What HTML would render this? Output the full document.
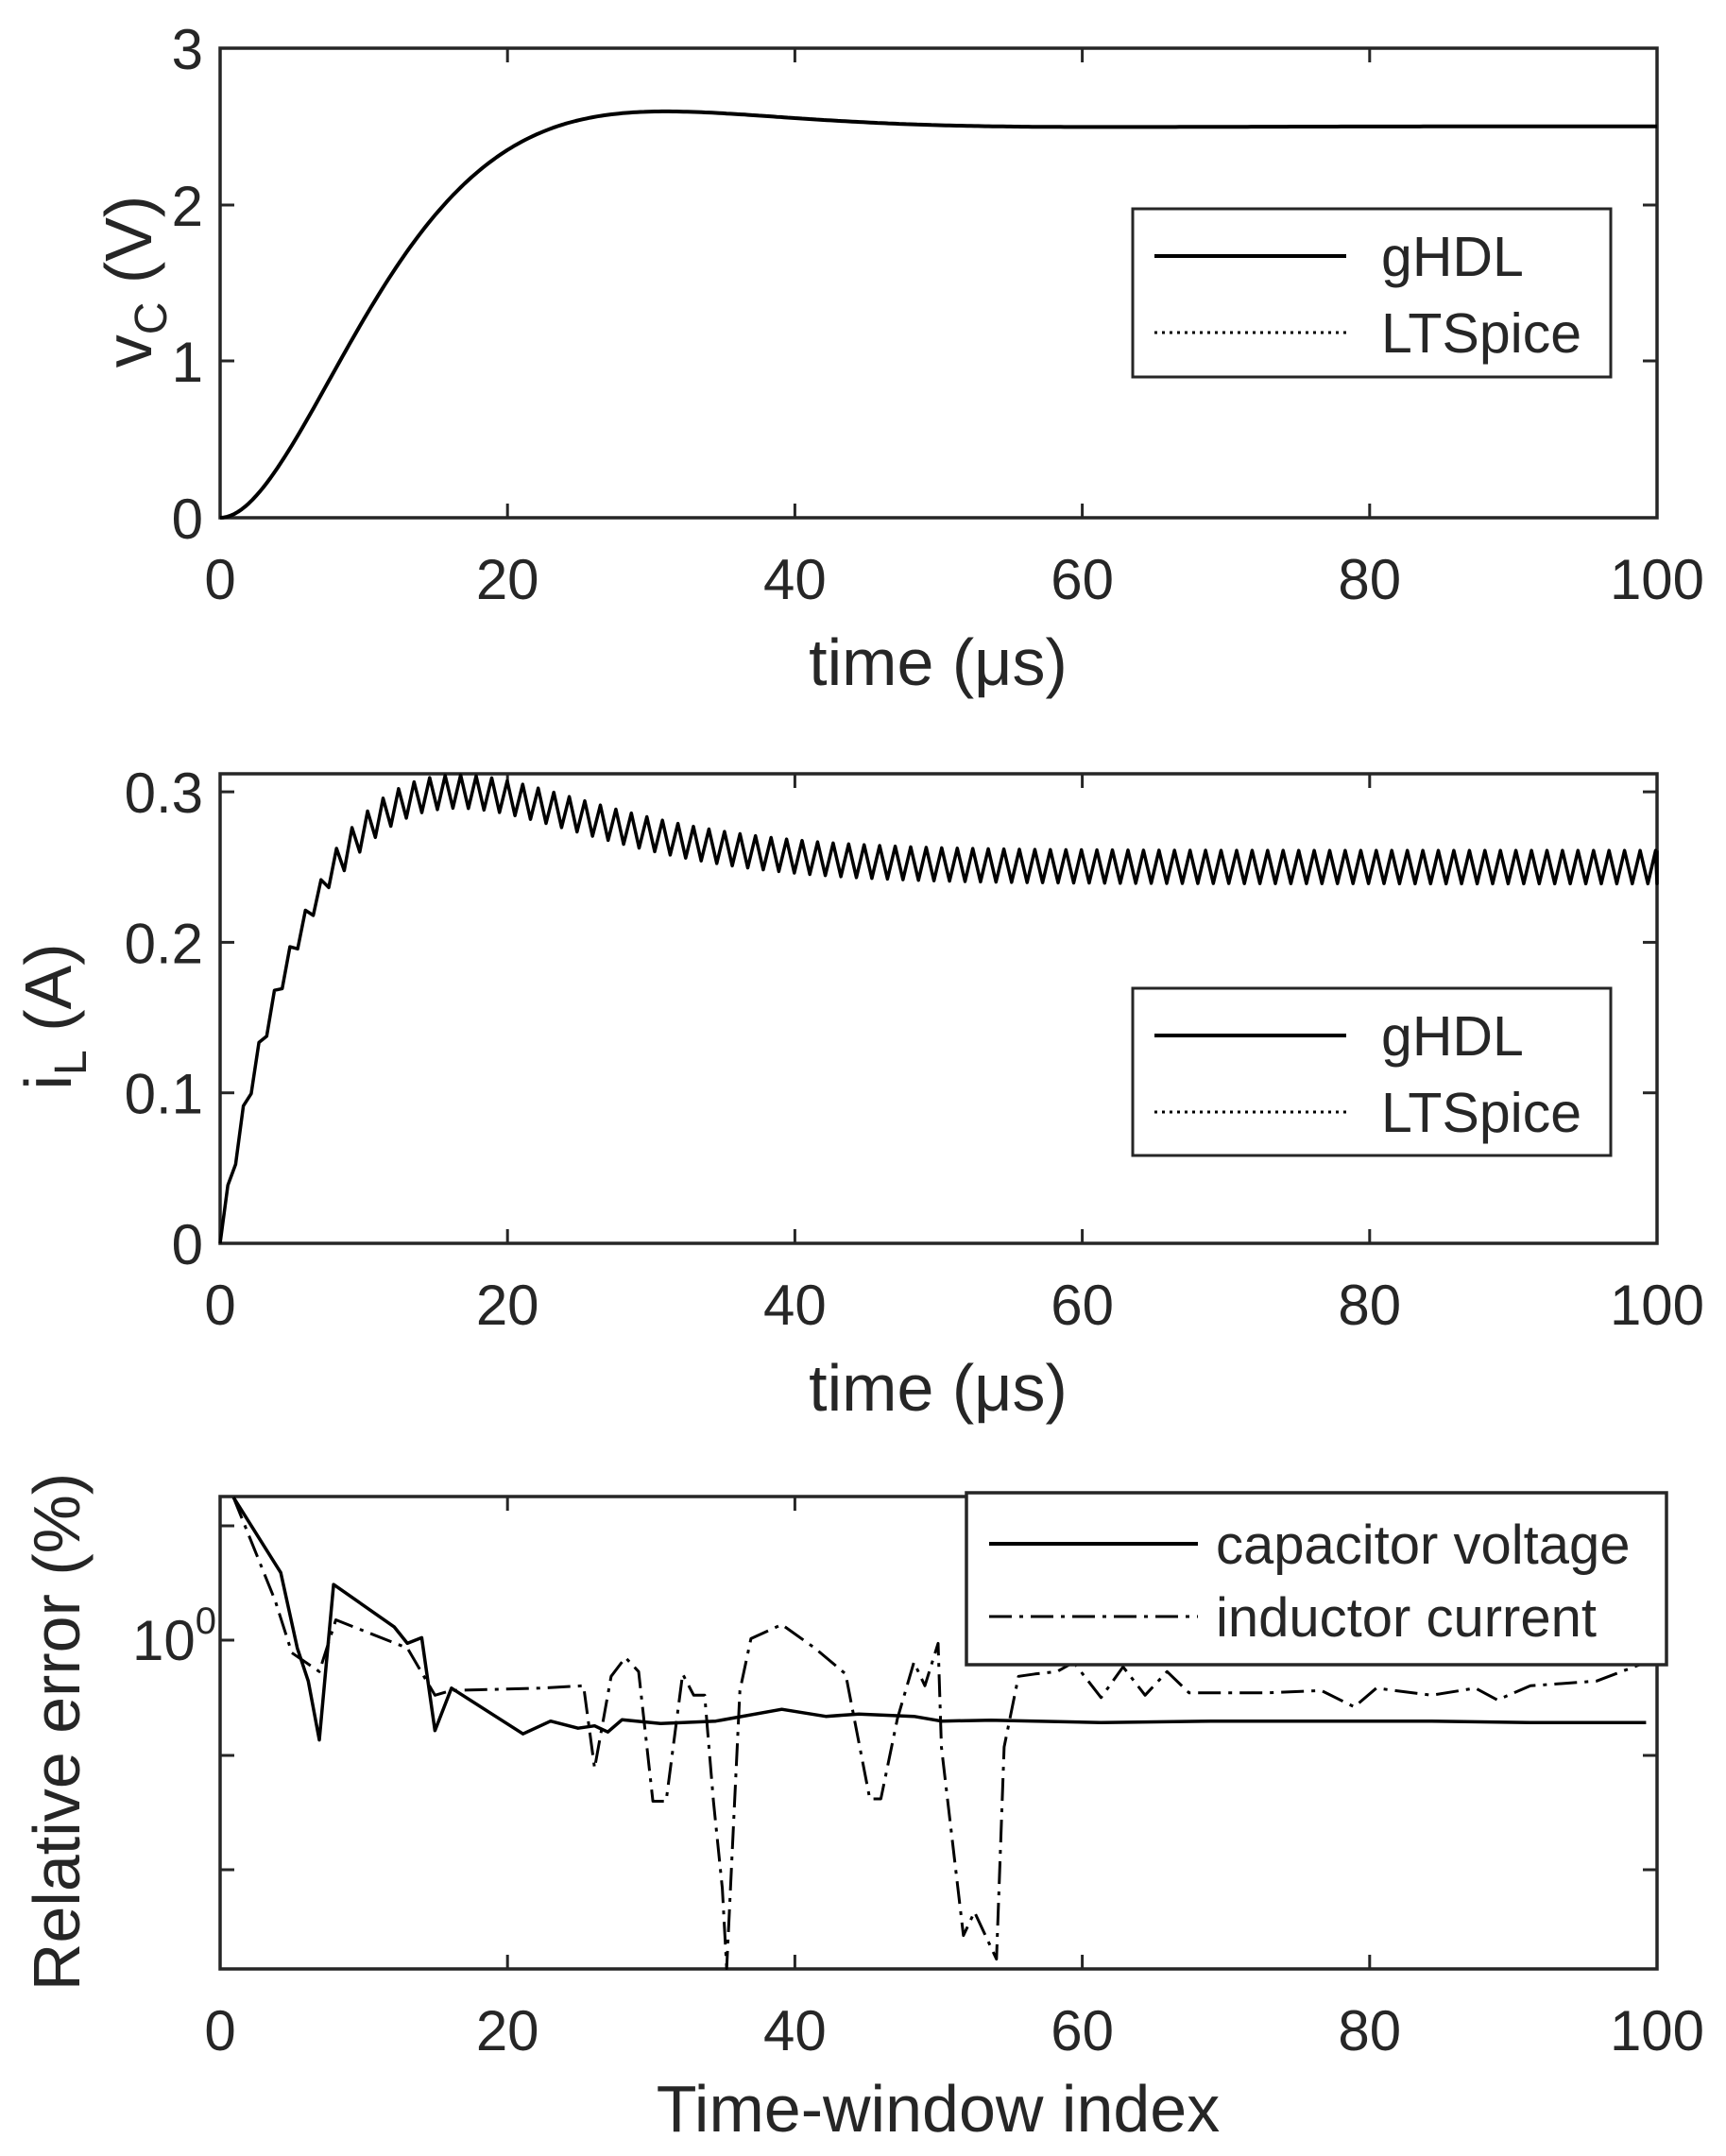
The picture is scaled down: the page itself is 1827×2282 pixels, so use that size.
<!DOCTYPE html>
<html><head><meta charset="utf-8"><style>
html,body{margin:0;padding:0;background:#fff}
svg{display:block}
text{font-family:"Liberation Sans",Arial,sans-serif;fill:#262626}
</style></head><body>
<svg id="s" width="1827" height="2282" viewBox="0 0 1827 2282" xmlns="http://www.w3.org/2000/svg">
<g id="g"></g>
</svg>
<script>
const NS="http://www.w3.org/2000/svg";const g=document.getElementById('g');
function el(t,a,txt){const e=document.createElementNS(NS,t);for(const k in a)e.setAttribute(k,a[k]);if(txt!==undefined)e.textContent=txt;g.appendChild(e);return e;}
const L=233,R=1754;const FS=60;
function X(t){return L+(R-L)*t/100;}
function frame(T,B,yt){
  el('rect',{x:L,y:T,width:R-L,height:B-T,fill:'none',stroke:'#262626','stroke-width':3.5});
  for(let v=0;v<=100;v+=20){const x=X(v);
    el('line',{x1:x,y1:B,x2:x,y2:B-15,stroke:'#262626','stroke-width':3});
    el('line',{x1:x,y1:T,x2:x,y2:T+15,stroke:'#262626','stroke-width':3});
    el('text',{x:x,y:B+86,'font-size':FS,'text-anchor':'middle'},String(v));
  }
  yt.forEach(([y,lab])=>{
    el('line',{x1:L,y1:y,x2:L+15,y2:y,stroke:'#262626','stroke-width':3});
    el('line',{x1:R,y1:y,x2:R-15,y2:y,stroke:'#262626','stroke-width':3});
    if(lab!==null)el('text',{x:215,y:y+22,'font-size':FS,'text-anchor':'end'},lab);
  });
}
function path(pts,attrs){let d='M'+pts.map(p=>p[0].toFixed(1)+','+p[1].toFixed(1)).join('L');const a=Object.assign({d:d,fill:'none',stroke:'#000','stroke-width':4,'stroke-linejoin':'round'},attrs);return el('path',a);}
// Plot 1
const T1=51,B1=548;
frame(T1,B1,[[548,'0'],[382,'1'],[217,'2'],[51,'3']]);
function vc(t){const z=0.72,wd=0.1013,wn=wd/Math.sqrt(1-z*z),a=z*wn;return 2.5*(1-Math.exp(-a*t)*(Math.cos(wd*t)+a/wd*Math.sin(wd*t)));}
let p=[];for(let t=0;t<=100;t+=0.25)p.push([X(t),B1-(B1-T1)/3*vc(t)]);
path(p);
el('rect',{x:1199,y:221,width:506,height:178,fill:'#fff',stroke:'#262626','stroke-width':3});
el('line',{x1:1222,y1:271,x2:1425,y2:271,stroke:'#000','stroke-width':4});
el('line',{x1:1222,y1:352,x2:1425,y2:352,stroke:'#000','stroke-width':3,'stroke-dasharray':'3,5'});
el('text',{x:1462,y:292,'font-size':59},'gHDL');
el('text',{x:1462,y:373,'font-size':59},'LTSpice');
el('text',{x:993,y:725,'font-size':70,'text-anchor':'middle'},'time (\u03BCs)');
let yl=el('text',{x:0,y:0,'font-size':70,'text-anchor':'middle',transform:'translate(160,298) rotate(-90)'});
yl.innerHTML='v<tspan font-size="48" dy="16">C</tspan><tspan dy="-16"> (V)</tspan>';
// Plot 2
const T2=819,B2=1316;const s2=159.3/0.1;
frame(T2,B2,[[1316,'0'],[1316-159.3,'0.1'],[1316-318.6,'0.2'],[1316-477.9,'0.3']]);
function il(t){return 0.25*(1-Math.exp(-t/4))+0.055*Math.pow(t/15,3)*Math.exp(3*(1-t/15));}
p=[];const per=1.08;
for(let k=0;k*per<=100.5;k++){const t0=k*per;for(const f of [0,0.5]){const t=Math.min(t0+f*per,100);let amp=t<8?0.007:0.011;let v=il(t)+(f===0?-amp:amp);if(t===0)v=0;v=Math.min(v,0.3115);p.push([X(t),B2-s2*Math.max(v,0)]);}}
path(p,{'stroke-width':3.5});
el('rect',{x:1199,y:1046,width:506,height:177,fill:'#fff',stroke:'#262626','stroke-width':3});
el('line',{x1:1222,y1:1096,x2:1425,y2:1096,stroke:'#000','stroke-width':4});
el('line',{x1:1222,y1:1177,x2:1425,y2:1177,stroke:'#000','stroke-width':3,'stroke-dasharray':'3,5'});
el('text',{x:1462,y:1117,'font-size':59},'gHDL');
el('text',{x:1462,y:1198,'font-size':59},'LTSpice');
el('text',{x:993,y:1493,'font-size':70,'text-anchor':'middle'},'time (\u03BCs)');
yl=el('text',{x:0,y:0,'font-size':70,'text-anchor':'middle',transform:'translate(75,1076) rotate(-90)'});
yl.innerHTML='i<tspan font-size="48" dy="16">L</tspan><tspan dy="-16"> (A)</tspan>';
// Plot 3
const T3=1584,B3=2084;
frame(T3,B3,[[1615,null],[1736,null],[1858,null],[1979,null]]);
let t10=el('text',{x:140,y:1757,'font-size':FS});
t10.innerHTML='10<tspan font-size="40" dy="-28">0</tspan>';
function Z(a){return a.map(q=>[q[0]/0.858,1500+q[1]/2.005]);}
const sol=[[212,170],[255,330],[270,490],[280,560],[290,685],[303,355],[358,445],[370,480],[383,468],[395,665],[410,575],[475,672],[500,645],[525,660],[540,655],[552,668],[565,642],[600,650],[650,645],[710,620],[750,635],[780,630],[830,635],[855,645],[900,643],[1000,648],[1100,645],[1300,645],[1390,648],[1495,648]];
const dd=[[212,170],[250,390],[265,500],[290,540],[305,430],[370,490],[395,590],[410,580],[490,575],[530,570],[540,745],[555,550],[568,510],[580,540],[593,815],[605,815],[620,545],[630,590],[640,590],[648,815],[656,1000],[660,1170],[672,580],[682,470],[710,440],[740,490],[768,545],[790,810],[800,810],[815,640],[830,520],[840,570],[852,480],[855,700],[875,1100],[885,1050],[895,1100],[905,1150],[912,700],[925,550],[940,545],[960,540],[975,520],[1000,595],[1020,530],[1040,590],[1060,540],[1080,585],[1150,585],[1200,580],[1230,615],[1250,575],[1300,590],[1340,575],[1360,600],[1390,570],[1450,560],[1495,520]];
path(Z(dd),{'stroke-width':3,'stroke-dasharray':'24,8,4,8'});
path(Z(sol),{'stroke-width':3.5});
el('rect',{x:1023,y:1580,width:741,height:182,fill:'#fff',stroke:'#262626','stroke-width':3.5});
el('line',{x1:1047,y1:1634,x2:1268,y2:1634,stroke:'#000','stroke-width':4});
el('line',{x1:1047,y1:1711,x2:1268,y2:1711,stroke:'#000','stroke-width':3,'stroke-dasharray':'24,8,4,8'});
el('text',{x:1287,y:1655,'font-size':58},'capacitor voltage');
el('text',{x:1287,y:1732,'font-size':58},'inductor current');
el('text',{x:993,y:2256,'font-size':70,'text-anchor':'middle'},'Time-window index');
el('text',{x:0,y:0,'font-size':70,'text-anchor':'middle',transform:'translate(84,1833) rotate(-90)'},'Relative error (%)');
</script>
</body></html>
